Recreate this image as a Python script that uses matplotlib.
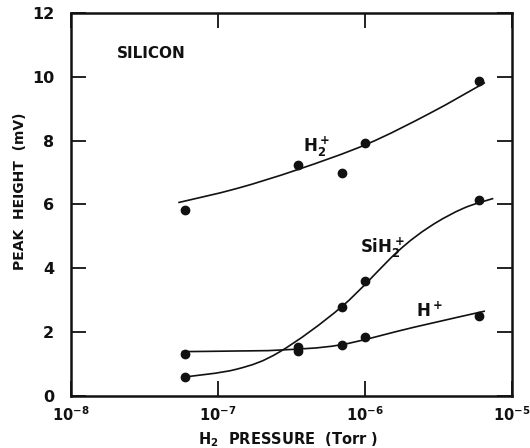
import matplotlib
matplotlib.use("Agg")
import matplotlib.pyplot as plt
from matplotlib.path import Path
from matplotlib.patches import PathPatch
import numpy as np

# measured points
pressure = [6e-8, 3.5e-7, 7e-7, 1e-6, 6e-6]
h2_plus = [5.83, 7.25, 6.98, 7.94, 9.86]
sih2_plus = [0.59, 1.52, 2.79, 3.61, 6.14]
h_plus = [1.32, 1.41, 1.61, 1.84, 2.52]

# hand-drawn curves (log10 pressure, value)
h2_curve_logx = [-7.270, -6.873, -6.454, -5.988, -5.558, -5.184]
h2_curve_y = [6.06, 6.50, 7.10, 7.89, 8.86, 9.82]
sih2_curve_logx = [-7.236, -6.873, -6.578, -6.158, -5.784, -5.558, -5.331, -5.127]
sih2_curve_y = [0.59, 0.84, 1.39, 2.80, 4.50, 5.31, 5.88, 6.19]
hp_curve_logx = [-7.247, -6.873, -6.578, -6.170, -5.671, -5.184]
hp_curve_y = [1.39, 1.41, 1.44, 1.60, 2.15, 2.66]

x_ticks = [1e-8, 1e-7, 1e-6, 1e-5]
x_ticklabels = [r'$\mathbf{10^{-8}}$', r'$\mathbf{10^{-7}}$', r'$\mathbf{10^{-6}}$', r'$\mathbf{10^{-5}}$']
y_ticks = [0, 2, 4, 6, 8, 10, 12]

plt.rcParams['font.family'] = ['DejaVu Sans']
plt.rcParams['font.weight'] = 'bold'
plt.rcParams['mathtext.fontset'] = 'dejavusans'

fig = plt.figure(figsize=(5.30, 4.48), dpi=100)
ax = fig.add_axes([71/530, 1 - 396/448, (512-71)/530, (396-13)/448])

lc = '#111111'


def smooth_curve(ax, lx, y):
    # Catmull-Rom through the read points, drawn as cubic Bezier segments
    lx = np.asarray(lx, float)
    y = np.asarray(y, float)
    pts = np.column_stack([lx, y])
    n = len(pts)
    verts = [pts[0]]
    codes = [Path.MOVETO]
    for i in range(n - 1):
        p0 = pts[i - 1] if i > 0 else pts[i]
        p1 = pts[i]
        p2 = pts[i + 1]
        p3 = pts[i + 2] if i + 2 < n else pts[i + 1]
        c1 = p1 + (p2 - p0) / 6.0
        c2 = p2 - (p3 - p1) / 6.0
        verts += [c1, c2, p2]
        codes += [Path.CURVE4] * 3
    verts = np.array(verts)
    verts[:, 0] = 10 ** verts[:, 0]
    ax.add_patch(PathPatch(Path(verts, codes), fill=False, edgecolor=lc, lw=1.2))


smooth_curve(ax, h2_curve_logx, h2_curve_y)
smooth_curve(ax, sih2_curve_logx, sih2_curve_y)
smooth_curve(ax, hp_curve_logx, hp_curve_y)

for ys in (h2_plus, sih2_plus, h_plus):
    ax.plot(pressure, ys, 'o', color=lc, ms=6, mec=lc)

ax.set_xscale('log')
ax.set_xlim(1e-8, 1e-5)
ax.set_ylim(0, 12)
ax.set_xticks(x_ticks)
ax.set_xticklabels(x_ticklabels)
ax.minorticks_off()
ax.set_yticks(y_ticks)
ax.set_yticklabels([str(v) for v in y_ticks])
ax.tick_params(axis='both', direction='in', length=11, width=1.3, top=True, right=True,
               labelsize=11.5, colors=lc)
ax.tick_params(axis='x', pad=7, labelsize=10.5)
ax.tick_params(axis='y', pad=12)
for s in ax.spines.values():
    s.set_linewidth(1.8)
    s.set_color(lc)

ax.set_xlabel(r'H$_\mathbf{2}$  PRESSURE  (Torr )', fontsize=10.5, fontweight='bold', color=lc)
ax.xaxis.set_label_coords(0.492, -0.09, transform=ax.transAxes)
ax.xaxis.label.set_va('top')
ax.set_ylabel('PEAK  HEIGHT  (mV)', fontsize=10, fontweight='bold', color=lc)
ax.yaxis.set_label_coords(-0.10, 0.535)

ax.text(0.104, 0.893, 'SILICON', transform=ax.transAxes, fontsize=11, fontweight='bold',
        va='center', ha='left', color=lc)
ax.text(3.8e-7, 7.66, r'$\mathbf{H_2^+}$', fontsize=12, color=lc, ha='left', va='baseline')
ax.text(9.25e-7, 4.48, r'$\mathbf{SiH_2^+}$', fontsize=12, color=lc, ha='left', va='baseline')
ax.text(2.24e-6, 2.48, r'$\mathbf{H^+}$', fontsize=12, color=lc, ha='left', va='baseline')

fig.savefig('out.png', dpi=100)
